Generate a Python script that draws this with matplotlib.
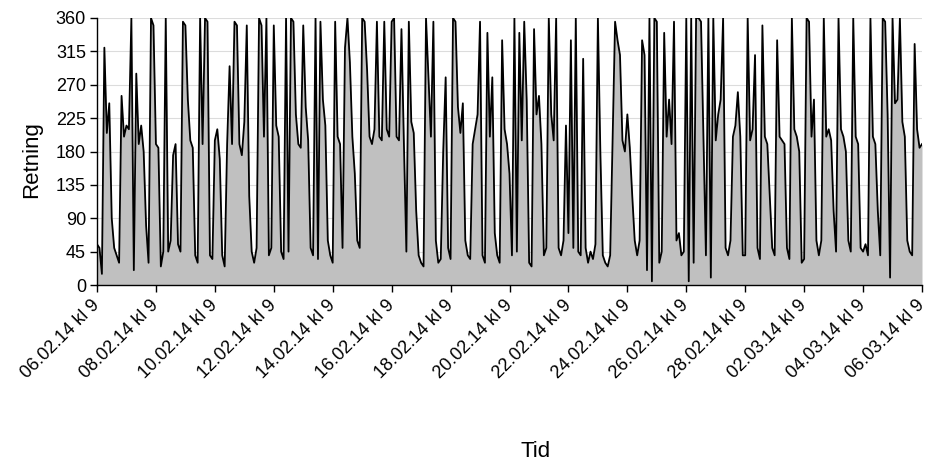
import numpy as np
import matplotlib
matplotlib.use("Agg")
import matplotlib.pyplot as plt

plt.rcParams['font.family'] = ['Liberation Sans', 'DejaVu Sans']

# Wind direction (degrees), 2-hourly readings, one list per 2-day block
blk_0602 = [55, 50, 15, 320, 205, 245, 90, 50, 40, 30, 255, 200,
            215, 210, 360, 20, 285, 190, 215, 180, 80, 30, 360, 350]
blk_0802 = [190, 185, 25, 45, 360, 45, 60, 175, 190, 55, 45, 355,
            350, 250, 195, 185, 40, 30, 360, 190, 360, 355, 40, 35]
blk_1002 = [195, 210, 170, 40, 25, 190, 295, 190, 355, 350, 190, 175,
            220, 350, 120, 45, 30, 50, 360, 350, 200, 360, 40, 50]
blk_1202 = [350, 215, 200, 45, 35, 360, 45, 360, 355, 230, 190, 185,
            350, 240, 195, 50, 40, 360, 35, 355, 250, 215, 60, 40]
blk_1402 = [30, 355, 200, 190, 50, 320, 360, 300, 200, 150, 60, 50,
            360, 355, 290, 200, 190, 210, 355, 200, 195, 355, 210, 200]
blk_1602 = [355, 360, 200, 195, 345, 190, 45, 355, 220, 205, 100, 40,
            30, 25, 360, 280, 200, 355, 60, 30, 35, 180, 280, 50]
blk_1802 = [35, 360, 355, 240, 205, 245, 60, 40, 35, 190, 210, 230,
            355, 40, 30, 340, 200, 280, 70, 40, 30, 330, 210, 190]
blk_2002 = [150, 40, 360, 45, 340, 195, 355, 250, 30, 25, 345, 230,
            255, 190, 40, 50, 360, 230, 195, 360, 50, 40, 60, 215]
blk_2202 = [70, 330, 50, 360, 45, 40, 305, 50, 30, 45, 35, 55,
            360, 180, 40, 30, 25, 40, 200, 355, 330, 310, 195, 180]
blk_2402 = [230, 185, 120, 60, 40, 60, 330, 310, 20, 360, 5, 360,
            355, 30, 45, 340, 200, 250, 190, 355, 60, 70, 40, 45]
blk_2602 = [360, 5, 360, 30, 360, 360, 355, 200, 40, 360, 10, 360,
            195, 230, 250, 360, 50, 40, 60, 200, 215, 260, 200, 40]
blk_2802 = [40, 360, 195, 210, 310, 50, 35, 350, 200, 190, 120, 50,
            40, 330, 200, 195, 190, 50, 35, 360, 210, 200, 180, 30]
blk_0203 = [35, 360, 355, 200, 250, 60, 40, 60, 360, 200, 210, 195,
            100, 45, 360, 210, 200, 180, 60, 45, 360, 200, 190, 50]
blk_0403 = [45, 55, 40, 360, 200, 190, 100, 40, 360, 355, 230, 10,
            360, 245, 250, 360, 220, 200, 60, 45, 40, 325, 210, 185]
last_reading = [190]

direction = np.array(blk_0602 + blk_0802 + blk_1002 + blk_1202 + blk_1402 +
                     blk_1602 + blk_1802 + blk_2002 + blk_2202 + blk_2402 +
                     blk_2602 + blk_2802 + blk_0203 + blk_0403 + last_reading,
                     dtype=float)
hours = np.arange(len(direction)) * 2

tick_labels = ["06.02.14 kl 9", "08.02.14 kl 9", "10.02.14 kl 9", "12.02.14 kl 9",
               "14.02.14 kl 9", "16.02.14 kl 9", "18.02.14 kl 9", "20.02.14 kl 9",
               "22.02.14 kl 9", "24.02.14 kl 9", "26.02.14 kl 9", "28.02.14 kl 9",
               "02.03.14 kl 9", "04.03.14 kl 9", "06.03.14 kl 9"]
tick_hours = np.arange(len(tick_labels)) * 48
y_ticks = np.arange(0, 361, 45)

fig = plt.figure(figsize=(9.3, 4.66), dpi=100)
ax = fig.add_axes([97 / 930, 1 - 285 / 466, 825 / 930, 267 / 466])

ax.fill_between(hours, direction, 0, color='#c0c0c0', linewidth=0, zorder=1)
ax.plot(hours, direction, color='black', linewidth=1.3, zorder=3)

ax.set_xlim(0, tick_hours[-1])
ax.set_ylim(0, 360)
ax.set_yticks(y_ticks)
ax.set_yticklabels([str(v) for v in y_ticks], fontsize=13)
ax.set_xticks(tick_hours)
ax.set_xticklabels(tick_labels, rotation=45, ha='right', va='center',
                   rotation_mode='anchor', fontsize=13)
ax.tick_params(axis='both', direction='out', length=5, width=1, color='black')
ax.tick_params(axis='x', pad=8)
ax.tick_params(axis='y', pad=3)

ax.grid(axis='y', color='#dcdcdc', linewidth=0.8, zorder=0)
ax.set_axisbelow(True)
for side in ('top', 'right'):
    ax.spines[side].set_visible(False)
for side in ('left', 'bottom'):
    ax.spines[side].set_linewidth(1.0)
    ax.spines[side].set_zorder(4)

ax.set_ylabel("Retning", fontsize=16)
ax.yaxis.set_label_coords(-0.066, 0.47)
ax.set_xlabel("Tid", fontsize=16)
ax.xaxis.set_label_coords(0.531, -0.585)

fig.savefig("out.png", dpi=100)
